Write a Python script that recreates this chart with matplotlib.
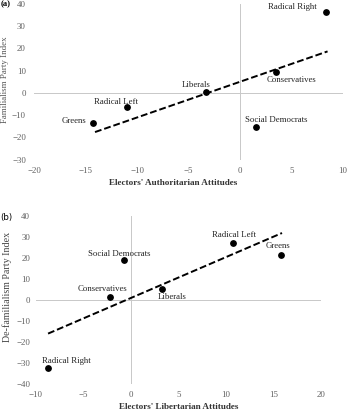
import numpy as np
import matplotlib
matplotlib.use("Agg")
import matplotlib.pyplot as plt

# panel (a): authoritarian attitudes vs familialism
parties_a = ["Radical Right", "Conservatives", "Liberals", "Radical Left", "Greens", "Social Democrats"]
x_a = [8.3, 3.5, -3.3, -11.0, -14.3, 1.5]
y_a = [36.3, 9.5, 0.5, -6.5, -13.5, -15.5]
lab_xa = [5.1, 5.0, -4.3, -12.1, -16.1, 3.5]
lab_ya = [38.4, 5.7, 3.5, -4.0, -12.6, -12.2]
trend_xa = [-14.1, 8.5]
trend_ya = [-17.6, 18.6]

# panel (b): libertarian attitudes vs de-familialism
parties_b = ["Radical Left", "Greens", "Social Democrats", "Conservatives", "Liberals", "Radical Right"]
x_b = [10.7, 15.8, -0.7, -2.2, 3.25, -8.7]
y_b = [27.3, 21.6, 18.9, 1.4, 5.2, -32.2]
lab_xb = [10.9, 15.5, -1.2, -3.0, 4.4, -6.8]
lab_yb = [31.0, 25.6, 21.9, 5.1, 1.6, -28.9]
trend_xb = [-8.7, 15.9]
trend_yb = [-16.0, 31.9]

plt.rcParams['font.family'] = ['Liberation Serif', 'DejaVu Serif']

W, H = 350, 419
fig = plt.figure(figsize=(W / 100, H / 100), dpi=100)


def panel(rect, xs, ys, names, lx, ly, tx, ty, xlim, ylim, xticks, yticks, ypad):
    ax = fig.add_axes(rect)
    ax.set_xlim(*xlim)
    ax.set_ylim(*ylim)
    for s in ax.spines.values():
        s.set_visible(False)
    ax.axhline(0, color='#c8c8c8', lw=0.7, zorder=1)
    ax.axvline(0, color='#c8c8c8', lw=0.7, zorder=1)
    ax.set_xticks(xticks)
    ax.set_yticks(yticks)
    ax.tick_params(length=0, labelsize=6.4, colors='#606060', pad=ypad)
    ax.tick_params(axis='x', pad=5)
    ax.plot(tx, ty, ls=(0, (3.5, 1.5)), color='black', lw=1.4, zorder=2)
    ax.scatter(xs, ys, s=15, color='black', zorder=3)
    for n, a, b in zip(names, lx, ly):
        ax.text(a, b, n, ha='center', va='center', fontsize=6.3, color='#222222')
    return ax


ax1 = panel([34.3 / W, 1 - 159.7 / H, 308.7 / W, 156 / H], x_a, y_a, parties_a,
            lab_xa, lab_ya, trend_xa, trend_ya, (-20, 10), (-30, 40),
            range(-20, 11, 5), range(-30, 41, 10), 6)
ax2 = panel([35.7 / W, 1 - 384 / H, 285.3 / W, 168 / H], x_b, y_b, parties_b,
            lab_xb, lab_yb, trend_xb, trend_yb, (-10, 20), (-40, 40),
            range(-10, 21, 5), range(-40, 41, 10), 4)

fig.text(173 / W, 1 - 183 / H, "Electors' Authoritarian Attitudes", ha='center', va='center',
         fontsize=6.6, fontweight='bold', color='#333333')
fig.text(179 / W, 1 - 406.7 / H, "Electors' Libertarian Attitudes", ha='center', va='center',
         fontsize=6.6, fontweight='bold', color='#333333')
fig.text(5 / W, 1 - 80 / H, "Familialism Party Index", rotation=90, ha='center', va='center',
         fontsize=6.4, color='#555555')
fig.text(7 / W, 1 - 287 / H, "De-familialism Party Index", rotation=90, ha='center', va='center',
         fontsize=7.2, color='#444444')
fig.text(0.5 / W, 1 - 4 / H, "(a)", ha='left', va='center', fontsize=6.2, fontweight='bold')
fig.text(0.5 / W, 1 - 217 / H, "(b)", ha='left', va='center', fontsize=6.2,
         family=['DejaVu Sans'])

fig.savefig("out.png", dpi=100)
